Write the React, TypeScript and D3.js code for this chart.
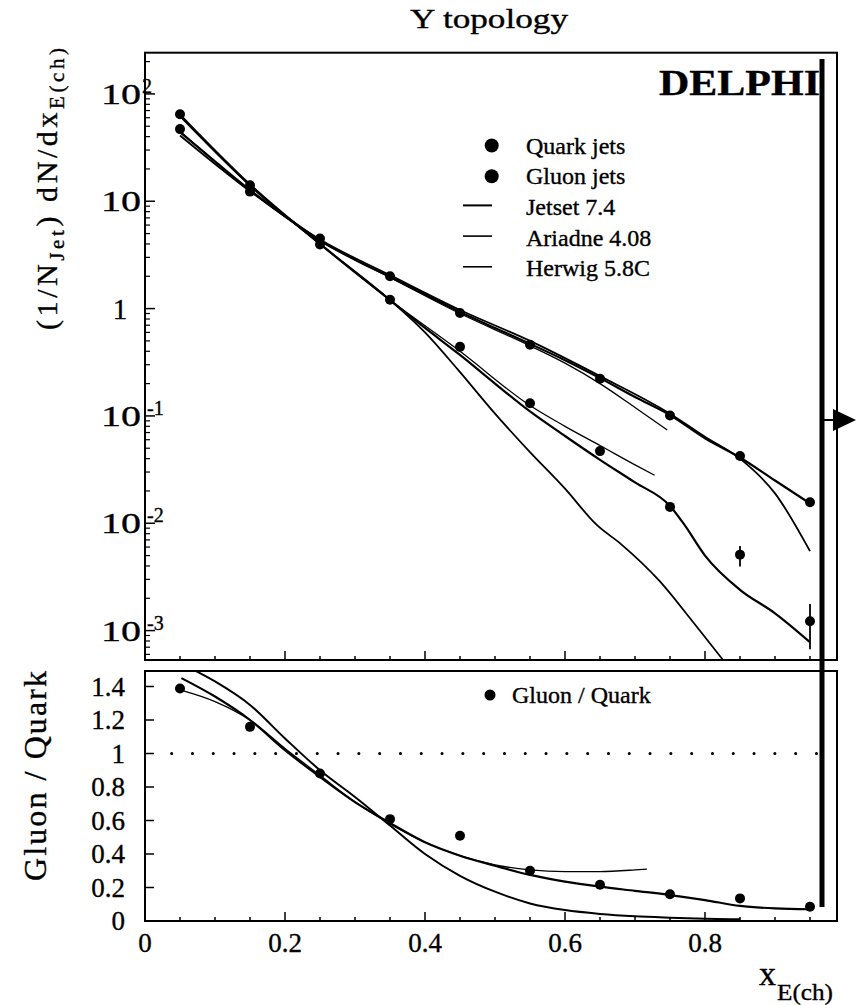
import React from "react";
import * as d3 from "d3";

// ---------- data ----------
const xBins = [0.05, 0.15, 0.25, 0.35, 0.45, 0.55, 0.65, 0.75, 0.85, 0.95];
const quarkValues = [47, 12.3, 4.5, 2.0, 0.91, 0.46, 0.222, 0.101, 0.0423, 0.0157];
const gluonValues = [64.7, 14.1, 3.96, 1.21, 0.44, 0.131, 0.047, 0.0142, 0.0051, 0.00122];
const gluonErrLow = [64.7, 14.1, 3.96, 1.21, 0.44, 0.131, 0.047, 0.0142, 0.00396, 0.00067];
const gluonErrHigh = [64.7, 14.1, 3.96, 1.21, 0.44, 0.131, 0.047, 0.0142, 0.00615, 0.00177];
const ratioValues = [1.388, 1.159, 0.881, 0.608, 0.509, 0.3, 0.216, 0.16, 0.135, 0.085];

const jetsetQuark: [number, number][] = [[0.05, 44], [0.1, 23.5], [0.15, 12.7], [0.2, 7.3], [0.25, 4.3], [0.3, 2.85], [0.35, 1.97], [0.4, 1.35], [0.45, 0.93], [0.5, 0.66], [0.55, 0.47], [0.6, 0.33], [0.65, 0.225], [0.7, 0.15], [0.75, 0.102], [0.8, 0.062], [0.85, 0.041], [0.9, 0.025], [0.95, 0.0153]];
const herwigQuark: [number, number][] = [[0.05, 41], [0.15, 12.4], [0.25, 4.4], [0.35, 2.05], [0.45, 0.97], [0.55, 0.5], [0.65, 0.235], [0.75, 0.105], [0.8, 0.064], [0.85, 0.04], [0.9, 0.019], [0.95, 0.0055]];
const ariadneQuark: [number, number][] = [[0.05, 45], [0.15, 12.6], [0.25, 4.3], [0.35, 1.95], [0.45, 0.9], [0.55, 0.45], [0.6, 0.31], [0.65, 0.2], [0.7, 0.12], [0.746, 0.074]];

const jetsetGluon: [number, number][] = [[0.05, 64], [0.15, 14.3], [0.25, 4.0], [0.35, 1.2], [0.4, 0.66], [0.45, 0.37], [0.5, 0.2], [0.55, 0.11], [0.6, 0.065], [0.65, 0.039], [0.7, 0.024], [0.75, 0.0145], [0.77, 0.0098], [0.8, 0.005], [0.85, 0.0024], [0.9, 0.00145], [0.95, 0.00078]];
const ariadneGluon: [number, number][] = [[0.05, 63], [0.15, 14], [0.25, 4.0], [0.35, 1.2], [0.45, 0.4], [0.55, 0.125], [0.6, 0.08], [0.65, 0.053], [0.7, 0.035], [0.728, 0.028]];
const herwigGluon: [number, number][] = [[0.05, 62], [0.15, 14], [0.25, 4.0], [0.35, 1.2], [0.4, 0.6], [0.447, 0.27], [0.5, 0.105], [0.55, 0.046], [0.6, 0.021], [0.645, 0.0097], [0.68, 0.0064], [0.735, 0.0029], [0.78, 0.00127], [0.825, 0.00054]];

const jetsetRatio: [number, number][] = [[0.052, 1.45], [0.1, 1.34], [0.15, 1.2], [0.2, 1.02], [0.25, 0.86], [0.3, 0.71], [0.35, 0.585], [0.4, 0.47], [0.45, 0.39], [0.5, 0.33], [0.55, 0.275], [0.6, 0.235], [0.65, 0.205], [0.7, 0.18], [0.75, 0.155], [0.8, 0.125], [0.85, 0.09], [0.9, 0.075], [0.95, 0.07]];
const herwigRatio: [number, number][] = [[0.055, 1.53], [0.1, 1.43], [0.15, 1.29], [0.2, 1.09], [0.25, 0.9], [0.3, 0.74], [0.35, 0.57], [0.4, 0.4], [0.45, 0.27], [0.5, 0.175], [0.55, 0.105], [0.6, 0.065], [0.65, 0.042], [0.7, 0.028], [0.75, 0.02], [0.8, 0.014], [0.85, 0.01]];
const ariadneRatio: [number, number][] = [[0.05, 1.38], [0.1, 1.31], [0.15, 1.2], [0.2, 1.03], [0.25, 0.87], [0.3, 0.71], [0.35, 0.58], [0.4, 0.47], [0.45, 0.39], [0.5, 0.335], [0.55, 0.305], [0.6, 0.295], [0.65, 0.295], [0.7, 0.305], [0.717, 0.31]];

const xTickLabels = ["0", "0.2", "0.4", "0.6", "0.8"];
const xTickValues = [0, 0.2, 0.4, 0.6, 0.8];
const logTickExps = [2, 1, 0, -1, -2, -3];
const ratioTickValues = [0, 0.2, 0.4, 0.6, 0.8, 1, 1.2, 1.4];
const ratioTickLabels = ["0", "0.2", "0.4", "0.6", "0.8", "1", "1.2", "1.4"];
const legendItems = ["Quark jets", "Gluon jets", "Jetset 7.4", "Ariadne 4.08", "Herwig 5.8C"];

// ---------- layout ----------
const W = 856, H = 1005;
const L = 145, R = 837;
const T1 = 52.7, B1 = 660;
const T2 = 671, B2 = 921;
const FONT = "Liberation Serif, Tinos, Times New Roman, Times, serif";

const x = d3.scaleLinear().domain([0, (R - L) / 700]).range([L, R]);
const yLog = d3.scaleLog().domain([Math.pow(10, -3.274), Math.pow(10, 2.384)]).range([B1, T1]);
const yRat = d3.scaleLinear().domain([0, (B2 - T2) / 167.5]).range([B2, T2]);

const lineLog = d3.line<[number, number]>().x(d => x(d[0])).y(d => yLog(d[1])).curve(d3.curveMonotoneX);
const lineRat = d3.line<[number, number]>().x(d => x(d[0])).y(d => yRat(d[1])).curve(d3.curveMonotoneX);

export default function App() {
  const xMinor = d3.range(0, 20).map(i => i * 0.05).filter(v => x(v) < R - 2);
  const logMinor: number[] = [];
  for (let e = -4; e <= 2; e++) {
    for (let m = 2; m <= 9; m++) {
      const v = m * Math.pow(10, e);
      const py = yLog(v);
      if (py > T1 && py < B1) logMinor.push(v);
    }
  }
  const black = "#000";
  const ts = { stroke: "#000", strokeWidth: 0.35 };
  return (
    <svg width={W} height={H} style={{ position: "absolute", left: 0, top: 0, display: "block", background: "#fff", fontFamily: FONT }}>
      <defs>
        <clipPath id="clipTop"><rect x={L} y={T1} width={R - L} height={B1 - T1} /></clipPath>
        <clipPath id="clipBot"><rect x={L} y={T2} width={R - L} height={B2 - T2} /></clipPath>
      </defs>
      <rect x={0} y={0} width={W} height={H} fill="#fff" />

      {/* frames */}
      <rect x={L} y={T1} width={R - L} height={B1 - T1} fill="none" stroke={black} strokeWidth={2} />
      <rect x={L} y={T2} width={R - L} height={B2 - T2} fill="none" stroke={black} strokeWidth={2} />

      {/* x ticks on both panels */}
      {[B1, B2].map((by, k) => (
        <g key={k}>
          {xMinor.map((v, i) => {
            const major = Math.abs(v / 0.2 - Math.round(v / 0.2)) < 1e-6;
            return <line key={i} x1={x(v)} x2={x(v)} y1={by} y2={by - (major ? 9 : 4)} stroke={black} strokeWidth={1.5} />;
          })}
        </g>
      ))}

      {/* log y ticks */}
      {logTickExps.map(e => (
        <line key={"M" + e} x1={L} x2={L + 10} y1={yLog(Math.pow(10, e))} y2={yLog(Math.pow(10, e))} stroke={black} strokeWidth={1.5} />
      ))}
      {logMinor.map((v, i) => (
        <line key={"m" + i} x1={L} x2={L + 5} y1={yLog(v)} y2={yLog(v)} stroke={black} strokeWidth={1.2} />
      ))}

      {/* ratio y ticks */}
      {ratioTickValues.map((v, i) => (
        <line key={"r" + i} x1={L} x2={L + 9} y1={yRat(v)} y2={yRat(v)} stroke={black} strokeWidth={1.5} />
      ))}

      <g {...ts}>
        {/* title */}
        <text x={489} y={28} fontSize={28} textAnchor="middle" textLength={158} lengthAdjust="spacingAndGlyphs">Y topology</text>

        {/* log tick labels */}
        {logTickExps.map(e => {
          const py = yLog(Math.pow(10, e));
          if (e === 0) return <text key={"l" + e} x={120} y={py + 10} fontSize={29} textAnchor="middle">1</text>;
          return (
            <g key={"l" + e}>
              <text x={101} y={py + 10} fontSize={29} textLength={40} lengthAdjust="spacingAndGlyphs">10</text>
              {e !== 1 && (
                <text x={e < 0 ? 147 : 142} y={py - 1} fontSize={20}>{e < 0 ? "-" + Math.abs(e) : String(e)}</text>
              )}
            </g>
          );
        })}

        {/* ratio tick labels */}
        {ratioTickValues.map((v, i) => (
          <text key={"rl" + i} x={125} y={yRat(v) + 9} fontSize={27} textAnchor="end">{ratioTickLabels[i]}</text>
        ))}

        {/* x tick labels */}
        {xTickValues.map((v, i) => (
          <text key={"xt" + i} x={x(v)} y={952} fontSize={27} textAnchor="middle">{xTickLabels[i]}</text>
        ))}

        {/* axis titles */}
        <text transform="translate(57,189) rotate(-90)" fontSize={30} textAnchor="middle" textLength={282} lengthAdjust="spacing">
          (1/N<tspan fontSize={21} dy={7}>Jet</tspan><tspan dy={-7}>) dN/dx</tspan><tspan fontSize={21} dy={7}>E(ch)</tspan>
        </text>
        <text transform="translate(46,776) rotate(-90)" fontSize={32} textAnchor="middle" textLength={210} lengthAdjust="spacing">Gluon / Quark</text>
        <text x={759} y={985} fontSize={34}>x</text>
        <text x={777} y={1000} fontSize={24} textLength={56} lengthAdjust="spacingAndGlyphs">E(ch)</text>

        {/* DELPHI */}
        <text x={659} y={95} fontSize={36} fontWeight="bold" textLength={161} lengthAdjust="spacingAndGlyphs">DELPHI</text>

        {/* legend texts */}
        {legendItems.map((t, i) => (
          <text key={"lt" + i} x={526} y={153.5 + i * 30.7} fontSize={24}>{t}</text>
        ))}
        <text x={512} y={703} fontSize={24}>Gluon / Quark</text>
      </g>

      {/* legend symbols */}
      {legendItems.map((t, i) => {
        const by = 153.5 + i * 30.7;
        return i < 2 ? (
          <circle key={"ls" + i} cx={491.7} cy={by - 8} r={7} fill={black} />
        ) : (
          <line key={"ls" + i} x1={463} x2={492} y1={by - 9.5} y2={by - 9.5} stroke={black} strokeWidth={i === 2 ? 2 : 1.6} />
        );
      })}
      <circle cx={490} cy={695} r={5.5} fill={black} />

      {/* upper curves */}
      <g clipPath="url(#clipTop)" fill="none" stroke={black}>
        <path d={lineLog(jetsetQuark) || ""} strokeWidth={2.2} />
        <path d={lineLog(herwigQuark) || ""} strokeWidth={1.8} />
        <path d={lineLog(ariadneQuark) || ""} strokeWidth={1.3} />
        <path d={lineLog(jetsetGluon) || ""} strokeWidth={2.2} />
        <path d={lineLog(ariadneGluon) || ""} strokeWidth={1.3} />
        <path d={lineLog(herwigGluon) || ""} strokeWidth={1.8} />
      </g>

      {/* upper points */}
      <g fill={black}>
        {xBins.map((v, i) => (
          <circle key={"q" + i} cx={x(v)} cy={yLog(quarkValues[i])} r={5} />
        ))}
        {xBins.map((v, i) => (
          <circle key={"g" + i} cx={x(v)} cy={yLog(gluonValues[i])} r={5} />
        ))}
        {xBins.map((v, i) =>
          gluonErrLow[i] < gluonValues[i] ? (
            <line key={"e" + i} x1={x(v)} x2={x(v)} y1={yLog(gluonErrLow[i])} y2={yLog(gluonErrHigh[i])} stroke={black} strokeWidth={1.8} />
          ) : null
        )}
      </g>

      {/* lower panel */}
      <line x1={x(0.038)} x2={x(0.965)} y1={yRat(1)} y2={yRat(1)} stroke={black} strokeWidth={3} strokeLinecap="round" strokeDasharray="0.1 20.7" />
      <g clipPath="url(#clipBot)" fill="none" stroke={black}>
        <path d={lineRat(jetsetRatio) || ""} strokeWidth={2.2} />
        <path d={lineRat(herwigRatio) || ""} strokeWidth={2} />
        <path d={lineRat(ariadneRatio) || ""} strokeWidth={1.3} />
      </g>
      <g fill={black}>
        {xBins.map((v, i) => (
          <circle key={"r" + i} cx={x(v)} cy={yRat(ratioValues[i])} r={5} />
        ))}
      </g>

      {/* thick vertical bar and arrow */}
      <line x1={822} x2={822} y1={59} y2={907} stroke={black} strokeWidth={5} />
      <line x1={822} x2={834} y1={420} y2={420} stroke={black} strokeWidth={2} />
      <polygon points="833,409 833,431 856,420" fill={black} />
    </svg>
  );
}
